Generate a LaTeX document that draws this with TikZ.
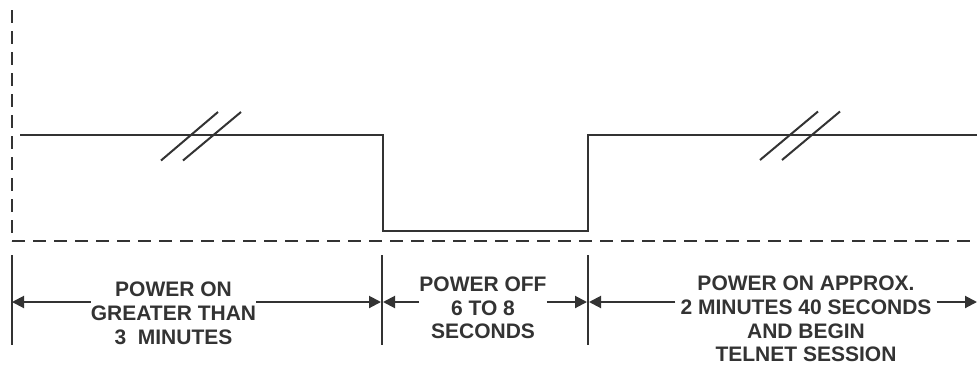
\documentclass[tikz,border=0pt]{standalone}
\usepackage{fontspec}
\setmainfont{Liberation Sans}
\usetikzlibrary{arrows.meta}
\definecolor{ink}{HTML}{333333}
\begin{document}
\begin{tikzpicture}[x=1pt,y=-1pt,
  dashline/.style={draw=ink,line width=2.6pt,dash pattern=on 12.5pt off 8.5pt},
  signal/.style={draw=ink,line width=2.2pt},
  breakmark/.style={draw=ink,line width=2pt},
  tickline/.style={draw=ink,line width=2pt},
  dimarrow/.style={draw=ink,line width=2pt,-{Triangle[length=12pt,width=12pt]}},
  lbl/.style={text=ink,font=\fontsize{21}{23.7}\selectfont\bfseries,align=center,inner sep=0pt,anchor=north}]
\useasboundingbox (0,0) rectangle (977,365);
% axes (dashed)
\coordinate (top) at (12,10);
\coordinate (origin) at (12,241);
\coordinate (xend) at (977,241);
\draw[dashline] (top) -- (origin);
\draw[dashline] (origin) -- (xend);
% signal
\coordinate (s0) at (20,135);
\coordinate (s1) at (383,135);
\coordinate (s2) at (383,231);
\coordinate (s3) at (588,231);
\coordinate (s4) at (588,135);
\coordinate (s5) at (977,135);
\draw[signal,line join=miter] (s0) -- (s1) -- (s2) -- (s3) -- (s4) -- (s5);
% break marks
\draw[breakmark] (161,160.5) -- (218,112);
\draw[breakmark] (183,160.5) -- (241,112);
\draw[breakmark] (760,160) -- (818,111.5);
\draw[breakmark] (782,160) -- (840,111.5);
% ticks
\coordinate (t0a) at (12,255); \coordinate (t0b) at (12,345);
\coordinate (t1a) at (382,255); \coordinate (t1b) at (382,345);
\coordinate (t2a) at (588,255); \coordinate (t2b) at (588,345);
\coordinate (tend) at (977,302);
\draw[tickline] (t0a) -- (t0b);
\draw[tickline] (t1a) -- (t1b);
\draw[tickline] (t2a) -- (t2b);
\coordinate (ay) at (0,302);
% labels
\node[lbl] (lt) at (173.5,282) {POWER ON\\GREATER THAN\\3~~MINUTES};
\node[lbl] (mt) at (483,276.5) {POWER OFF\\6 TO 8\\SECONDS};
\node[lbl,inner xsep=5pt] (rt) at (806,276) {POWER ON APPROX.\\2 MINUTES 40 SECONDS\\AND BEGIN\\TELNET SESSION};
% dimension arrows
\draw[dimarrow] (lt.west |- ay) -- (t0a |- ay);
\draw[dimarrow] (lt.east |- ay) -- ([xshift=-1pt]t1a |- ay);
\draw[dimarrow] (mt.west |- ay) -- ([xshift=1pt]t1a |- ay);
\draw[dimarrow] (mt.east |- ay) -- ([xshift=-1pt]t2a |- ay);
\draw[dimarrow] (rt.west |- ay) -- ([xshift=1pt]t2a |- ay);
\draw[dimarrow] (rt.east |- ay) -- (tend);
\end{tikzpicture}
\end{document}
